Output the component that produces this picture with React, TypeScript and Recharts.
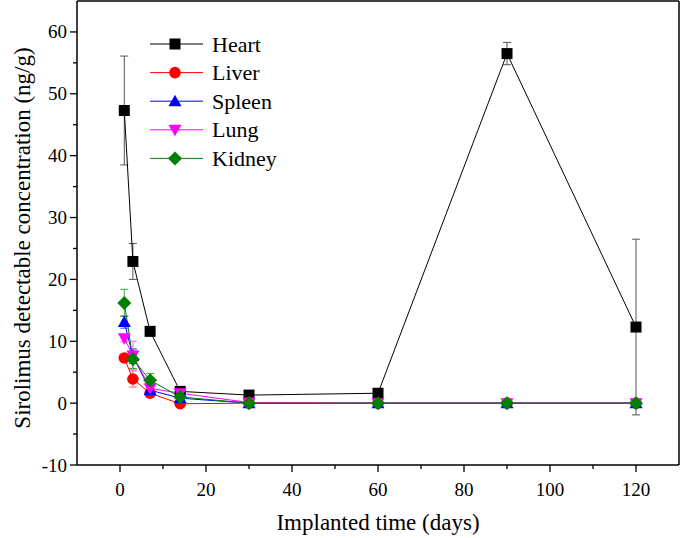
import React from "react";
import { LineChart, Line, XAxis, YAxis, ErrorBar, ReferenceLine } from "recharts";

const days = [1, 3, 7, 14, 30, 60, 90, 120];
const heart = [47.3, 22.9, 11.6, 1.9, 1.3, 1.6, 56.5, 12.3];
const heartErr = [8.8, 2.9, 0.3, 0.3, 0.2, 0.2, 1.8, 14.2];
const liver = [7.3, 3.9, 1.6, -0.1, 0, 0, 0, 0];
const liverErr = [0.4, 1.3, 0.4, 0.1, 0, 0, 0, 0];
const spleen = [13.1, 7.6, 2.1, 0.8, 0, 0, 0, 0];
const spleenErr = [1.0, 1.2, 0.4, 0.2, 0, 0, 0, 0];
const lung = [10.5, 7.7, 2.4, 1.6, 0.1, 0, 0, 0];
const lungErr = [0.6, 2.3, 0.5, 0.3, 0, 0, 0, 0];
const kidney = [16.2, 7.1, 3.7, 1.0, 0, 0, 0, 0];
const kidneyErr = [2.2, 1.5, 1.1, 0.2, 0, 0, 0, 0];

const xTicks = [-10, 0, 10, 20, 30, 40, 50, 60, 70, 80, 90, 100, 110, 120, 130];
const yTicks = [-10, -5, 0, 5, 10, 15, 20, 25, 30, 35, 40, 45, 50, 55, 60, 65];

const data = days.map((d, i) => ({
  day: d,
  heart: heart[i], heartErr: heartErr[i],
  liver: liver[i], liverErr: liverErr[i],
  spleen: spleen[i], spleenErr: spleenErr[i],
  lung: lung[i], lungErr: lungErr[i],
  kidney: kidney[i], kidneyErr: kidneyErr[i],
}));

const FONT = '"Times New Roman", "Liberation Serif", Tinos, "DejaVu Serif", serif';
const tStyle = { fontFamily: FONT } as React.CSSProperties;

type Shape = "square" | "circle" | "up" | "down" | "diamond";

function Marker({ cx, cy, shape, color }: { cx: number; cy: number; shape: Shape; color: string }) {
  if (cx == null || cy == null || isNaN(cx) || isNaN(cy)) return null;
  switch (shape) {
    case "square":
      return <rect x={cx - 5.5} y={cy - 5.5} width={11} height={11} fill={color} />;
    case "circle":
      return <circle cx={cx} cy={cy} r={5.8} fill={color} />;
    case "up":
      return <polygon points={`${cx},${cy - 6.5} ${cx + 6.5},${cy + 5} ${cx - 6.5},${cy + 5}`} fill={color} />;
    case "down":
      return <polygon points={`${cx},${cy + 6.5} ${cx + 6.5},${cy - 5} ${cx - 6.5},${cy - 5}`} fill={color} />;
    case "diamond":
      return <polygon points={`${cx},${cy - 7} ${cx + 7},${cy} ${cx},${cy + 7} ${cx - 7},${cy}`} fill={color} />;
  }
  return null;
}

const series: { key: string; name: string; color: string; shape: Shape; errColor: string }[] = [
  { key: "heart", name: "Heart", color: "#000000", shape: "square", errColor: "#555555" },
  { key: "liver", name: "Liver", color: "#ff0000", shape: "circle", errColor: "#ff6060" },
  { key: "spleen", name: "Spleen", color: "#0000ff", shape: "up", errColor: "#6060ff" },
  { key: "lung", name: "Lung", color: "#ff00ff", shape: "down", errColor: "#ff60ff" },
  { key: "kidney", name: "Kidney", color: "#008000", shape: "diamond", errColor: "#40a040" },
];

function XTick(props: any) {
  const { x, y, payload } = props;
  const v = payload.value;
  const major = v % 20 === 0;
  if (v === -10 || v === 130) return null;
  return (
    <g>
      <line x1={x} x2={x} y1={y} y2={y + (major ? 7 : 4)} stroke="#000" strokeWidth={1.3} />
      {major && (
        <text x={x} y={y + 31} textAnchor="middle" style={tStyle} fontSize={19} fill="#000">
          {v}
        </text>
      )}
    </g>
  );
}

function YTick(props: any) {
  const { x, y, payload } = props;
  const v = payload.value;
  const major = v % 10 === 0;
  if (v === 65) return null;
  return (
    <g>
      <line x1={x - (major ? 7 : 4)} x2={x} y1={y} y2={y} stroke="#000" strokeWidth={1.3} />
      {major && (
        <text x={x - 10} y={y + 6.5} textAnchor="end" style={tStyle} fontSize={19} fill="#000">
          {v}
        </text>
      )}
    </g>
  );
}

function LegendBox() {
  return (
    <svg width={140} height={150} style={{ position: "absolute", left: 140, top: 28 }}>
      {series.map((s, i) => {
        const cy = 16 + i * 28.6;
        return (
          <g key={s.key}>
            <line x1={10} x2={63} y1={cy} y2={cy} stroke={s.color} strokeWidth={1} />
            <Marker cx={35} cy={cy} shape={s.shape} color={s.color} />
            <text x={72} y={cy + 7.5} style={tStyle} fontSize={22} fill="#000">
              {s.name}
            </text>
          </g>
        );
      })}
    </svg>
  );
}

export default function App() {
  return (
    <div style={{ position: "absolute", left: 0, top: 0, width: 685, height: 538, background: "#fff", fontFamily: FONT }}>
      <LineChart width={685} height={538} data={data} margin={{ top: 1, right: 6, bottom: 0, left: 0 }}>
        <XAxis
          dataKey="day"
          type="number"
          domain={[-10, 130]}
          ticks={xTicks}
          interval={0}
          tick={<XTick />}
          tickLine={false}
          tickSize={0}
          tickMargin={0}
          height={73}
          axisLine={{ stroke: "#000", strokeWidth: 1.5 }}
          label={() => (
            <text x={378} y={530} textAnchor="middle" style={tStyle} fontSize={23} fill="#000">
              Implanted time (days)
            </text>
          )}
        />
        <YAxis
          type="number"
          domain={[-10, 65]}
          ticks={yTicks}
          interval={0}
          tick={<YTick />}
          tickLine={false}
          tickSize={0}
          tickMargin={0}
          width={77}
          axisLine={{ stroke: "#000", strokeWidth: 1.5 }}
          label={() => (
            <text
              x={22}
              y={238}
              transform="rotate(-90 22 238)"
              textAnchor="middle"
              dominantBaseline="central"
              style={tStyle}
              fontSize={23}
              fill="#000"
            >
              Sirolimus detectable concentration (ng/g)
            </text>
          )}
        />
        <ReferenceLine x={130} stroke="#000" strokeWidth={1.5} />
        <ReferenceLine y={65} stroke="#000" strokeWidth={1.5} />
        {series.map((s) => (
          <Line
            key={s.key}
            dataKey={s.key}
            name={s.name}
            stroke={s.color}
            strokeWidth={1}
            isAnimationActive={false}
            dot={(p: any) => <Marker key={`${s.key}-${p.index}`} cx={p.cx} cy={p.cy} shape={s.shape} color={s.color} />}
            activeDot={false}
          >
            <ErrorBar dataKey={`${s.key}Err`} direction="y" width={4} stroke={s.errColor} strokeWidth={1} />
          </Line>
        ))}
      </LineChart>
      <LegendBox />
    </div>
  );
}
